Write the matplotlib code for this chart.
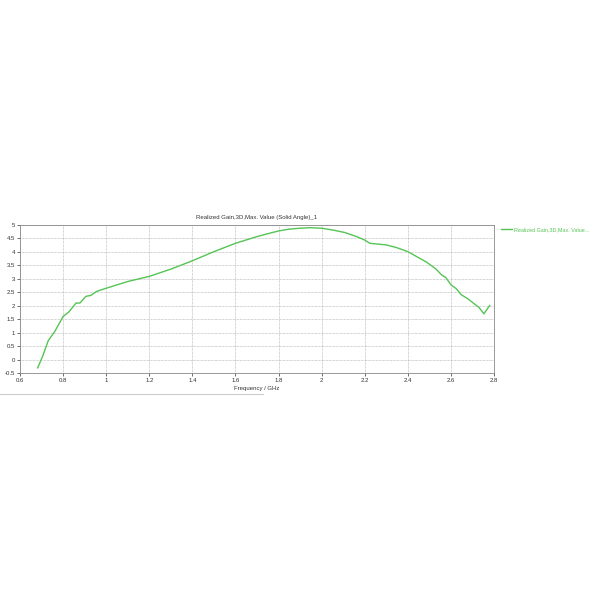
import numpy as np
import matplotlib
matplotlib.use("Agg")
import matplotlib.pyplot as plt
from matplotlib.lines import Line2D

# Realized gain curve
freq_ghz = [0.682, 0.705, 0.731, 0.762, 0.80, 0.827, 0.86, 0.878, 0.906, 0.928,
            0.955, 1.0, 1.1, 1.2, 1.3, 1.4, 1.5, 1.6, 1.7, 1.8,
            1.853, 1.9, 1.946, 2.0, 2.054, 2.108, 2.162, 2.2, 2.224, 2.30,
            2.348, 2.4, 2.44, 2.487, 2.53, 2.556, 2.576, 2.6, 2.625, 2.648,
            2.68, 2.71, 2.73, 2.753, 2.78]
gain_db = [-0.31, 0.12, 0.70, 1.05, 1.60, 1.77, 2.10, 2.10, 2.35, 2.38,
           2.53, 2.65, 2.90, 3.09, 3.36, 3.67, 4.01, 4.32, 4.57, 4.78,
           4.85, 4.88, 4.90, 4.88, 4.81, 4.72, 4.57, 4.44, 4.32, 4.26,
           4.16, 4.01, 3.83, 3.62, 3.37, 3.15, 3.05, 2.78, 2.63, 2.41,
           2.25, 2.06, 1.94, 1.70, 2.01]

x_ticks = [0.6, 0.8, 1, 1.2, 1.4, 1.6, 1.8, 2, 2.2, 2.4, 2.6, 2.8]
y_ticks = [-0.5, 0, 0.5, 1, 1.5, 2, 2.5, 3, 3.5, 4, 4.5, 5]

title = "Realized Gain,3D,Max. Value (Solid Angle)_1"
legend_label = "Realized Gain,3D,Max. Value..."
line_color = "#55c455"
fs = 4.3

plt.rcParams['font.family'] = ['Liberation Sans', 'DejaVu Sans']

fig = plt.figure(figsize=(6, 6), dpi=100)
ax = fig.add_axes([20 / 600, 1 - 373 / 600, 474 / 600, 148 / 600])

ax.plot(freq_ghz, gain_db, color=line_color, linewidth=1.0)

ax.set_xlim(0.6, 2.8)
ax.set_ylim(-0.5, 5)
ax.set_xticks(x_ticks)
ax.set_xticklabels([f"{t:g}" for t in x_ticks])
ax.set_yticks(y_ticks)
ax.set_yticklabels([f"{t:g}" for t in y_ticks])
ax.tick_params(labelsize=fs, length=2, width=0.5, pad=1.5, colors="#333333")
ax.grid(True, linestyle=(0, (1, 1)), color="#aaaaaa", linewidth=0.5)
for sp in ax.spines.values():
    sp.set_color("#888888")
    sp.set_linewidth(0.6)

ax.set_title(title, fontsize=fs, pad=4, color="#333333")
ax.set_xlabel("Frequency / GHz", fontsize=fs, labelpad=2, color="#333333")

# legend outside on the right
handle = Line2D([0], [0], color=line_color, linewidth=1.0)
fig.legend([handle], [legend_label], loc="upper left",
           bbox_to_anchor=(496 / 600, 1 - 222 / 600), frameon=False,
           fontsize=3.9, handlelength=2.0, handletextpad=0.5,
           labelcolor=line_color)

# faint separator under the plot
fig.add_artist(Line2D([0, 263 / 600], [1 - 394 / 600, 1 - 394 / 600],
                      color="#cccccc", linewidth=0.8))

fig.savefig("out.png", dpi=100)
